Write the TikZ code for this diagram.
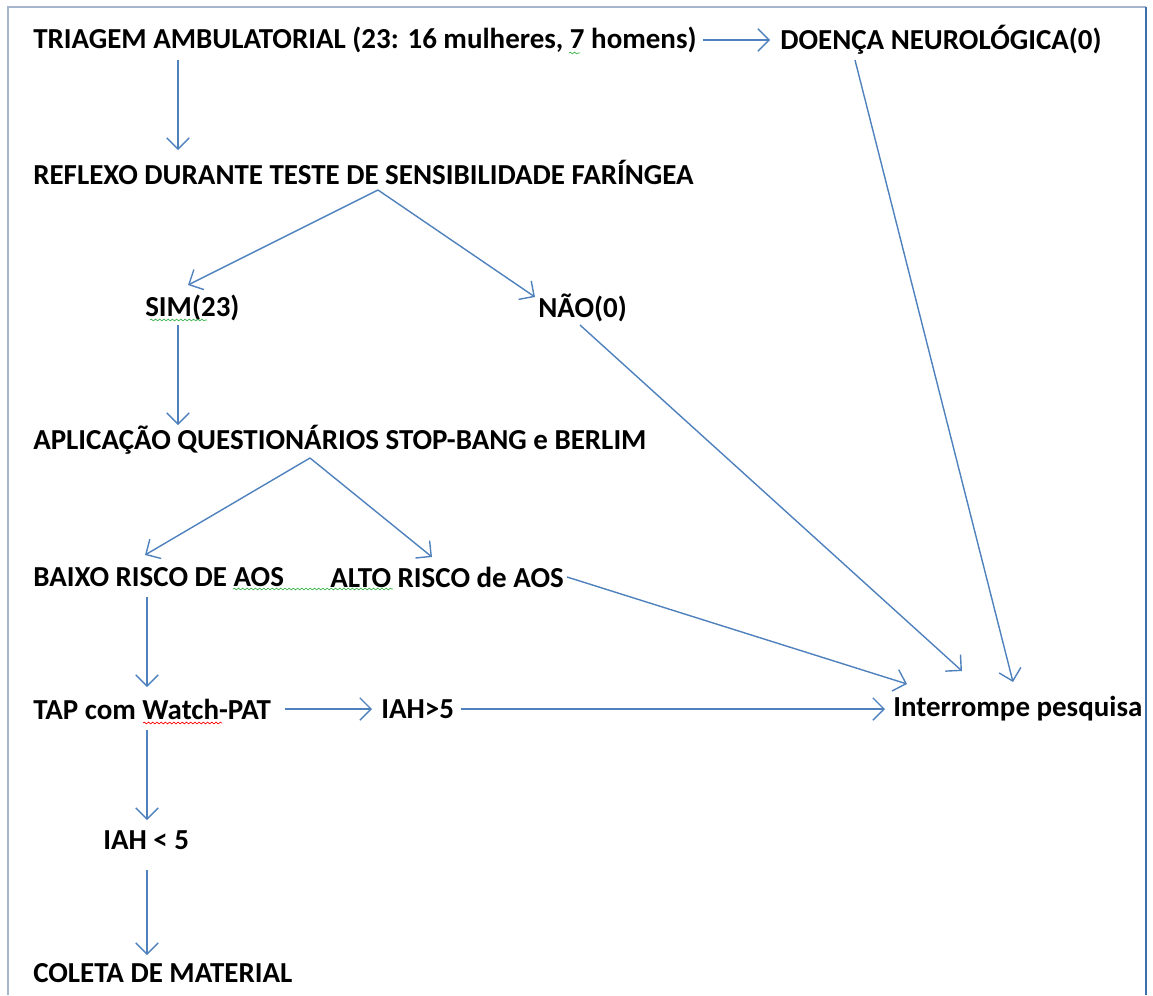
\documentclass[tikz,border=0pt]{standalone}
\usepackage{fontspec}
\setmainfont{Carlito}
\usetikzlibrary{calc,arrows.meta,decorations.pathmorphing}
\definecolor{setacor}{HTML}{4F81BD}
\definecolor{molduraclara}{HTML}{A5B6CC}
\definecolor{molduraescura}{HTML}{3E6FAE}
\definecolor{verdeonda}{HTML}{3CB44B}

\begin{document}
\begin{tikzpicture}[x=0.025cm,y=-0.025cm]
        \tikzstyle{every node}=[anchor=west,inner sep=0pt,font=\fontsize{20.6}{22}\selectfont\bfseries]
        \tikzstyle{seta}=[draw=setacor,line width=1pt,-{Straight Barb[length=2.8mm,width=5.6mm]}]
        \tikzstyle{onda}=[line width=0.5pt,decorate,decoration={snake,amplitude=0.6pt,segment length=3pt}]
            \useasboundingbox (0,0) rectangle (1153,995);
            \draw[molduraclara,line width=1pt] (8,995) -- (8,7) -- (1146,7);
            \draw[molduraescura,line width=1.2pt] (1146,7) -- (1146,995);

            \node (tri) at (33,40) {TRIAGEM AMBULATORIAL (23: 16 mulheres, 7 homens)};
            \node (doenca) at (780,40) {DOENÇA NEUROLÓGICA(0)};
            \node (refl) at (33,172) {REFLEXO DURANTE TESTE DE SENSIBILIDADE FARÍNGEA};
            \node (sim) at (145,308) {SIM(23)};
            \node (nao) at (538,308) {NÃO(0)};
            \node (apl) at (33,440) {APLICAÇÃO QUESTIONÁRIOS STOP-BANG e BERLIM};
            \node (baixo) at (33,577) {BAIXO RISCO DE AOS};
            \node (alto) at (330,577) {ALTO RISCO de AOS};
            \node (tap) at (33,709) {TAP com Watch-PAT};
            \node (iahmaior) at (381,709) {IAH>5};
            \node (interr) at (893,709) {Interrompe pesquisa};
            \node (iahmenor) at (103,840) {IAH < 5};
            \node (coleta) at (33,973) {COLETA DE MATERIAL};

            \draw[seta] ($(tri.east)+(6,0)$) -- ($(doenca.west)+(-10,0)$);
            \draw[seta] ($(tri.west)+(145,20)$) -- ($(refl.west)+(145,-22)$);
            \draw[seta] ($(refl.west)+(345,18)$) -- ($(sim.west)+(43,-23)$);
            \draw[seta] ($(refl.west)+(345,18)$) -- ($(nao.west)+(-3,-11)$);
            \draw[seta] ($(sim.west)+(33,17)$) -- ($(apl.west)+(145,-15)$);
            \draw[seta] ($(apl.west)+(277,18)$) -- ($(baixo.west)+(112,-22)$);
            \draw[seta] ($(apl.west)+(277,18)$) -- ($(alto.west)+(102,-20)$);
            \draw[seta] ($(baixo.west)+(114,20)$) -- ($(tap.west)+(114,-22)$);
            \draw[seta] ($(tap.east)+(14,0)$) -- ($(iahmaior.west)+(-9,0)$);
            \draw[seta] ($(iahmaior.east)+(7,0)$) -- ($(interr.west)+(-8,0)$);
            \draw[seta] ($(alto.east)+(3,0)$) -- ($(interr.west)+(14,-25)$);
            \draw[seta] ($(nao.west)+(42,17)$) -- ($(interr.west)+(69,-38)$);
            \draw[seta] ($(doenca.west)+(75,20)$) -- ($(interr.west)+(120,-27)$);
            \draw[seta] ($(tap.west)+(114,21)$) -- ($(iahmenor.west)+(44,-20)$);
            \draw[seta] ($(iahmenor.west)+(44,30)$) -- ($(coleta.west)+(114,-18)$);

            % sublinhados do corretor
            \draw[onda,verdeonda] (569,53) -- (580,53);
            \draw[onda,verdeonda] ($(sim.west)+(5,12)$) -- ($(sim.west)+(62,12)$);
            \draw[onda,verdeonda] (233,589) -- (393,589);
            \draw[onda,red] ($(tap.west)+(110,14)$) -- ($(tap.west)+(189,14)$);

        \end{tikzpicture}
\end{document}
